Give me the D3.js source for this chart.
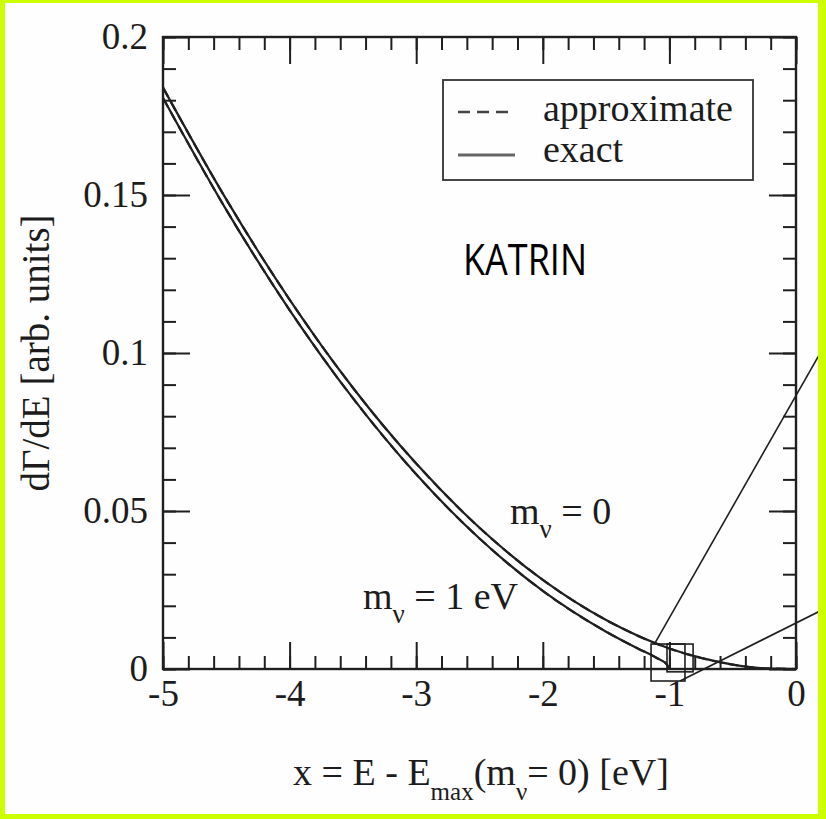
<!DOCTYPE html>
<html>
<head>
<meta charset="utf-8">
<script src="https://cdn.jsdelivr.net/npm/d3@7"></script>
<style>
  html, body { margin: 0; padding: 0; background: #ccff00; }
  svg { display: block; }
  text { fill: #1c1c1c; }
</style>
</head>
<body>
<svg id="chart" width="826" height="819"></svg>
<script>
// Beta spectrum near the endpoint, for two neutrino masses
const energyM0 = [-5, -4.5, -4, -3.5, -3, -2.5, -2, -1.5, -1, -0.75, -0.5, -0.25, 0];
const rateM0   = [0.184, 0.1486, 0.1169, 0.089, 0.065, 0.0447, 0.0282, 0.0155, 0.0065, 0.0035, 0.0014, 0.0002, 0];

const energyM1 = [-5, -4.5, -4, -3.5, -3, -2.5, -2, -1.5, -1.25, -1.1, -1.02, -1];
const rateM1   = [0.1807, 0.1453, 0.1136, 0.0857, 0.0616, 0.0413, 0.0247, 0.0118, 0.0065, 0.0035, 0.0014, 0];

const xTicks = [-5, -4, -3, -2, -1, 0];
const xTickLabels = ["-5", "-4", "-3", "-2", "-1", "0"];
const yTicks = [0, 0.05, 0.1, 0.15, 0.2];
const yTickLabels = ["0", "0.05", "0.1", "0.15", "0.2"];

// Zoom-inset marker near the m = 1 eV endpoint and its connector lines
const zoomBoxes = [
  { x0: -1.145, x1: -0.877, y0: -0.0038, y1: 0.0079 },
  { x0: -1.019, x1: -0.813, y0: -0.0009, y1: 0.0079 }
];
const connectors = [
  { x0: -1.114, y0: 0.0082, x1: 0.237, y1: 0.1032 },
  { x0: -0.916, y0: -0.0038, x1: 0.237, y1: 0.0193 }
];

const svg = d3.select("#chart");
const W = 826, H = 819;
const pL = 163, pR = 796, pT = 37, pB = 669;

svg.append("rect").attr("x", 5).attr("y", 3).attr("width", 813).attr("height", 811).attr("fill", "#fefefe");

const x = d3.scaleLinear().domain([-5, 0]).range([pL, pR]);
const y = d3.scaleLinear().domain([0, 0.2]).range([pB, pT]);

const ink = "#1f1f1f";
const serif = "'Liberation Serif', 'Times New Roman', serif";
const fs = 38;

// connector lines (drawn first so frame sits on top)
const overlay = svg.append("g");
overlay.selectAll("line.conn").data(connectors).join("line")
  .attr("x1", d => x(d.x0)).attr("y1", d => y(d.y0))
  .attr("x2", d => x(d.x1)).attr("y2", d => y(d.y1))
  .attr("stroke", ink).attr("stroke-width", 1.6);

// curves
const line = d3.line().x(d => x(d[0])).y(d => y(d[1])).curve(d3.curveMonotoneX);
const m0 = energyM0.map((e, i) => [e, rateM0[i]]);
const m1 = energyM1.map((e, i) => [e, rateM1[i]]);
[m0, m1].forEach(pts => {
  svg.append("path").datum(pts).attr("d", line)
    .attr("fill", "none").attr("stroke", ink).attr("stroke-width", 2.2);
});
// approximate spectra coincide with exact on this scale
[m0, m1].forEach(pts => {
  svg.append("path").datum(pts).attr("d", line)
    .attr("fill", "none").attr("stroke", ink).attr("stroke-width", 2.2)
    .attr("stroke-dasharray", "10,6");
});

overlay.selectAll("rect.zb").data(zoomBoxes).join("rect")
  .attr("x", d => x(d.x0)).attr("y", d => y(d.y1))
  .attr("width", d => x(d.x1) - x(d.x0)).attr("height", d => y(d.y0) - y(d.y1))
  .attr("fill", "none").attr("stroke", ink).attr("stroke-width", 1.6);

// axes: major and minor ticks pointing inward on all four sides
const xMinor = d3.range(-5, 0.0001, 0.2).map(v => +v.toFixed(2));
const yMinor = d3.range(0, 0.2001, 0.01).map(v => +v.toFixed(3));

function styleAxis(g) {
  g.selectAll("path.domain").remove();
  g.selectAll(".tick line").attr("stroke", ink).attr("stroke-width", 2);
  g.selectAll(".tick text").attr("font-family", serif).attr("font-size", 37).attr("fill", "#1c1c1c");
}

svg.append("g").attr("transform", `translate(0,${pB})`)
  .call(d3.axisBottom(x).tickValues(xMinor).tickSize(-13).tickFormat(""))
  .call(styleAxis);
svg.append("g").attr("transform", `translate(0,${pB})`)
  .call(d3.axisBottom(x).tickValues(xTicks).tickSize(-27).tickPadding(9)
    .tickFormat((d, i) => xTickLabels[i]))
  .call(styleAxis)
  .call(g => g.selectAll(".tick text").attr("dy", "0.75em"));
svg.append("g").attr("transform", `translate(0,${pT})`)
  .call(d3.axisTop(x).tickValues(xMinor).tickSize(-13).tickFormat(""))
  .call(styleAxis);
svg.append("g").attr("transform", `translate(0,${pT})`)
  .call(d3.axisTop(x).tickValues(xTicks).tickSize(-27).tickFormat(""))
  .call(styleAxis);

svg.append("g").attr("transform", `translate(${pL},0)`)
  .call(d3.axisLeft(y).tickValues(yMinor).tickSize(-13).tickFormat(""))
  .call(styleAxis);
svg.append("g").attr("transform", `translate(${pL},0)`)
  .call(d3.axisLeft(y).tickValues(yTicks).tickSize(-27).tickPadding(15)
    .tickFormat((d, i) => yTickLabels[i]))
  .call(styleAxis);
svg.append("g").attr("transform", `translate(${pR},0)`)
  .call(d3.axisRight(y).tickValues(yMinor).tickSize(-13).tickFormat(""))
  .call(styleAxis);
svg.append("g").attr("transform", `translate(${pR},0)`)
  .call(d3.axisRight(y).tickValues(yTicks).tickSize(-27).tickFormat(""))
  .call(styleAxis);

// frame
svg.append("rect").attr("x", pL).attr("y", pT)
  .attr("width", pR - pL).attr("height", pB - pT)
  .attr("fill", "none").attr("stroke", ink).attr("stroke-width", 2.4);

// legend
const lg = svg.append("g");
lg.append("rect").attr("x", 443).attr("y", 80).attr("width", 310).attr("height", 100)
  .attr("fill", "#fefefe").attr("stroke", "#333").attr("stroke-width", 1.8);
lg.append("line").attr("x1", 458).attr("x2", 515).attr("y1", 112).attr("y2", 112)
  .attr("stroke", "#444").attr("stroke-width", 2.4).attr("stroke-dasharray", "12,7");
lg.append("line").attr("x1", 458).attr("x2", 515).attr("y1", 155).attr("y2", 155)
  .attr("stroke", "#666").attr("stroke-width", 3);
lg.append("text").attr("x", 543).attr("y", 121).attr("font-family", serif).attr("font-size", fs).text("approximate");
lg.append("text").attr("x", 543).attr("y", 162).attr("font-family", serif).attr("font-size", fs).text("exact");

// curve labels
function massLabel(xp, yp, rest) {
  const t = svg.append("text").attr("x", xp).attr("y", yp)
    .attr("font-family", serif).attr("font-size", fs);
  t.append("tspan").text("m");
  t.append("tspan").attr("dy", 14).attr("font-size", 27).text("ν");
  t.append("tspan").attr("dy", -14).text(" " + rest);
}
massLabel(510, 524, "= 0");
massLabel(363, 609, "= 1 eV");

// experiment tag
svg.append("text").attr("x", 463).attr("y", 275)
  .attr("font-family", "'Open Sans', 'Noto Sans', sans-serif").attr("font-size", 44)
  .attr("textLength", 124).attr("lengthAdjust", "spacingAndGlyphs")
  .style("fill", "#000").text("KATRIN");

// axis titles
const xt = svg.append("text").attr("x", 481).attr("y", 785).attr("text-anchor", "middle")
  .attr("font-family", serif).attr("font-size", fs);
xt.append("tspan").text("x = E - E");
xt.append("tspan").attr("dy", 15).attr("font-size", 25).text("max");
xt.append("tspan").attr("dy", -15).text("(m");
xt.append("tspan").attr("dy", 15).attr("font-size", 25).text("ν");
xt.append("tspan").attr("dy", -15).text("= 0) [eV]");

svg.append("text").attr("transform", `translate(49,${(pT + pB) / 2}) rotate(-90)`)
  .attr("text-anchor", "middle").attr("font-family", serif).attr("font-size", 39)
  .text("dΓ/dE [arb. units]");

// outer border
svg.append("rect").attr("x", 0).attr("y", 0).attr("width", 5).attr("height", H).attr("fill", "#ccff00");
svg.append("rect").attr("x", 818).attr("y", 0).attr("width", 8).attr("height", H).attr("fill", "#ccff00");
svg.append("rect").attr("x", 0).attr("y", 0).attr("width", W).attr("height", 3).attr("fill", "#ccff00");
svg.append("rect").attr("x", 0).attr("y", 814).attr("width", W).attr("height", 5).attr("fill", "#ccff00");
</script>
</body>
</html>
